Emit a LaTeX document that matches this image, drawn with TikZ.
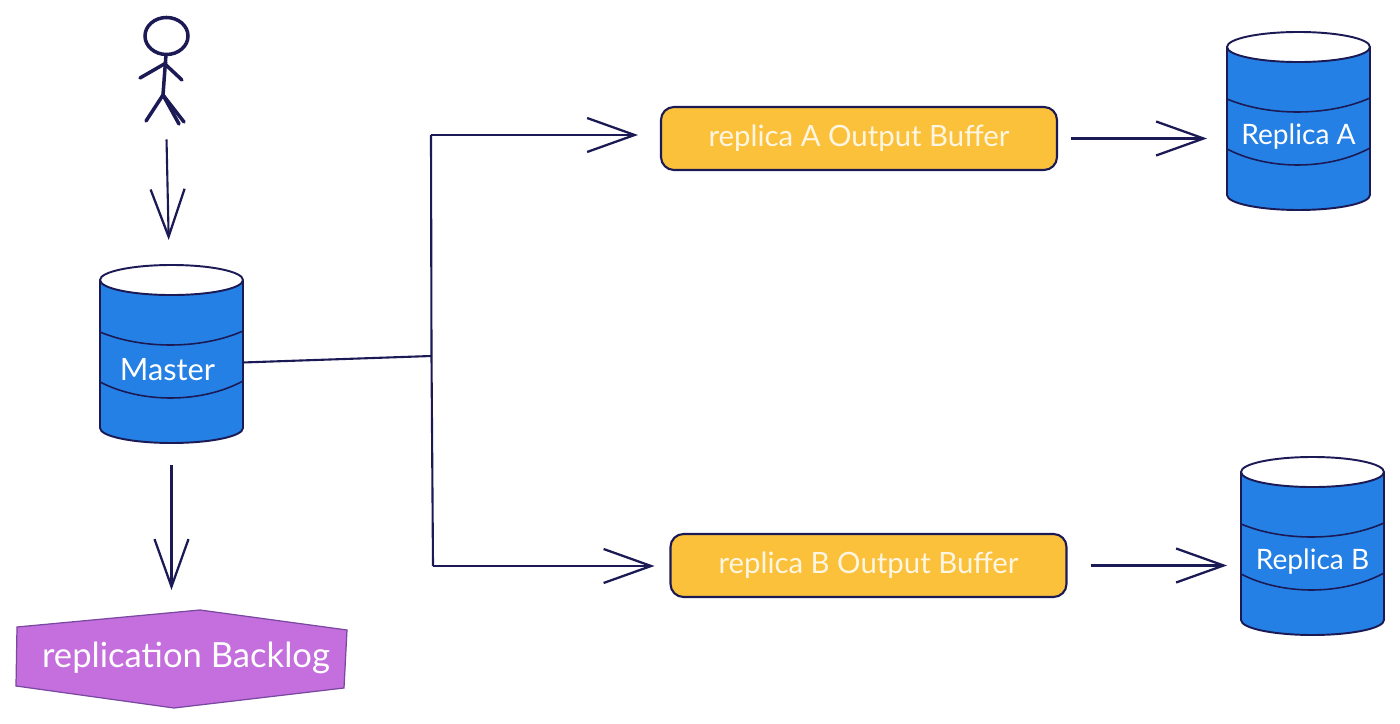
\documentclass[tikz,border=0pt]{standalone}
\usepackage{fontspec}
\setmainfont{Lato}
\usetikzlibrary{calc,positioning,shapes.geometric,arrows.meta}

\definecolor{inkblue}{HTML}{1B1A55}
\definecolor{dbblue}{HTML}{2480E4}
\definecolor{bufyellow}{HTML}{FBC13B}
\definecolor{logpurple}{HTML}{C56EDD}

\tikzset{
	ink/.style={draw=inkblue, line width=1.2pt},
	barbline/.style={ink, -{Straight Barb[length=0.95cm,width=0.68cm,line width=1.3pt]}},
	dbnode/.style={shape=cylinder, shape border rotate=90, shape aspect=0.21, draw=inkblue, line width=1.1pt,
		cylinder uses custom fill, cylinder body fill=dbblue, cylinder end fill=white, anchor=shape center,
		minimum width=2.86cm, minimum height=3.56cm, inner xsep=1.43cm, inner ysep=0pt, outer sep=0pt,
		text=white, font=\fontsize{16}{18}\selectfont},
	bufferbox/.style={rectangle, rounded corners=0.26cm, fill=bufyellow, draw=inkblue, line width=1.2pt,
		minimum width=7.92cm, minimum height=1.26cm, inner sep=0pt, outer sep=0pt,
		text=white!85!bufyellow, font=\fontsize{16.7}{18}\selectfont},
	stick/.style={draw=inkblue, line width=2pt, line cap=round},
}

\newcommand{\dbbands}[1]{
	\draw[inkblue, line width=0.9pt] ($(#1.shape center)+(-1.43,0.44)$) .. controls ($(#1.shape center)+(-0.6,0.09)$) and ($(#1.shape center)+(0.6,0.09)$) .. ($(#1.shape center)+(1.43,0.46)$);
	\draw[inkblue, line width=0.9pt] ($(#1.shape center)+(-1.43,-0.56)$) .. controls ($(#1.shape center)+(-0.6,-0.99)$) and ($(#1.shape center)+(0.6,-0.99)$) .. ($(#1.shape center)+(1.43,-0.54)$);
}

\begin{document}
\begin{tikzpicture}
	\useasboundingbox (0,0) rectangle (28,14.46);

	% Stick figure
	\node [minimum width=0.9cm, minimum height=2.18cm, inner sep=0pt, outer sep=0pt] (person) at (3.3,13.08) {};
	\draw[stick] (3.33,13.74) ellipse (0.43 and 0.37);
	\draw[stick] (3.32,13.37) -- (3.26,12.56);
	\draw[stick] (3.32,13.2) -- (2.8,12.9);
	\draw[stick] (3.32,13.16) -- (3.64,12.86);
	\draw[stick] (3.26,12.56) -- (2.92,12.04);
	\draw[stick] (3.26,12.56) -- (3.58,11.98);
	\draw[stick] (3.26,12.56) -- (3.68,12.02);

	% Databases
	\node [dbnode, font=\fontsize{17.5}{20}\selectfont] (master) at (3.43,7.38) {\makebox[0pt]{\hspace*{-0.16cm}Master}};
	\node [dbnode] (replicaA) at (25.97,12.04) {\makebox[0pt]{Replica A}};
	\node [dbnode] (replicaB) at (26.25,3.54) {\makebox[0pt]{Replica B}};
	\dbbands{master}
	\dbbands{replicaA}
	\dbbands{replicaB}

	% Output buffers
	\node [bufferbox] (bufferA) at (17.18,11.69) {replica A Output Buffer};
	\node [bufferbox] (bufferB) at (17.37,3.15) {replica B Output Buffer};

	% Backlog hexagon
	\fill[logpurple, draw=inkblue!45!logpurple, line width=0.7pt] (0.34,1.92) -- (4,2.26) -- (6.94,1.86) -- (6.88,0.7) -- (3.48,0.3) -- (0.32,0.74) -- cycle;
	\node [minimum width=6.4cm, minimum height=2cm, inner sep=0pt, outer sep=0pt, text=white, font=\fontsize{19.7}{22}\selectfont] (backlog) at (3.72,1.3) {replication Backlog};

	% Trunk from master to the buffers
	\coordinate (trunktop) at (8.62,11.76);
	\coordinate (trunkmid) at (8.63,7.34);
	\coordinate (trunkbot) at (8.66,3.14);
	\draw[ink] ($(master.east)+(0,0.14)$) -- (trunkmid);
	\draw[ink] (trunktop) -- (trunkmid) -- (trunkbot);

	% Arrows
	\draw[barbline, shorten <=0.32cm, shorten >=0.5cm] (person) -- (master);
	\draw[barbline, shorten <=0.44cm, shorten >=0.36cm] (master.south) -- (master.south |- backlog.north);
	\draw[barbline, shorten >=0.46cm] (trunktop) -- (trunktop -| bufferA.west);
	\draw[barbline, shorten >=0.32cm] (trunkbot) -- (trunkbot -| bufferB.west);
	\draw[barbline, shorten <=0.28cm, shorten >=0.4cm] (bufferA.east) -- (bufferA.east -| replicaA.west);
	\draw[barbline, shorten <=0.48cm, shorten >=0.28cm] (bufferB.east) -- (bufferB.east -| replicaB.west);
\end{tikzpicture}
\end{document}
